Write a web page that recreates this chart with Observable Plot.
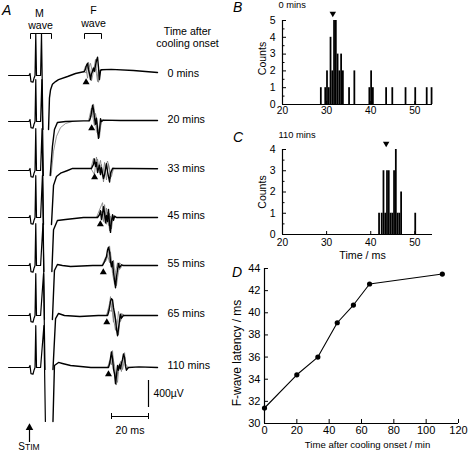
<!DOCTYPE html>
<html><head><meta charset="utf-8">
<script src="https://cdn.jsdelivr.net/npm/d3@7"></script>
<script src="https://cdn.jsdelivr.net/npm/@observablehq/plot@0.6"></script>
<style>
body{margin:0;background:#fff;}
#fig{position:relative;width:469px;height:459px;overflow:hidden;font-family:"Liberation Sans",Arial,sans-serif;background:#fff;}
#fig > svg{position:absolute;overflow:visible;}
.lab{position:absolute;font-style:italic;font-size:14px;line-height:1;}
</style></head><body><div id="fig"></div>
<script>
// ---------------- data ----------------
const coolingTimes = [0, 20, 33, 45, 55, 65, 110];            // min after cooling onset
const fLatency     = [31.4, 34.4, 36.0, 39.1, 40.7, 42.6, 43.5]; // ms

// histogram B (0 mins): bin starts (ms) and counts, bin width 0.4 ms
const histBStart = [28.6, 29.6, 30.0, 30.4, 30.8, 31.2, 31.6, 32.0, 32.4, 32.8, 33.2, 33.6, 35.0, 36.2, 39.6, 40.0, 40.4, 43.4, 44.8, 47.8, 50.0, 52.6, 53.7];
const histBCount = [1,    1,    2,    1,    4,    2,    5,    5,    3,    2,    3,    2,    1,    2,    1,    2,    1,    1,    1,    1,    1,    1,    1];
// histogram C (110 mins)
const histCStart = [41.8, 42.4, 42.8, 43.2, 43.6, 44.0, 44.4, 44.8, 45.2, 45.6, 46.0, 46.4, 46.8, 50.0];
const histCCount = [1,    1,    3,    1,    3,    3,    1,    1,    3,    4,    1,    1,    2,    1];
const binWidth = 0.4;

const histXTicks = [20, 30, 40, 50];
const histBYTicks = [0, 1, 2, 3, 4, 5];
const histCYTicks = [0, 1, 2, 3, 4];
const dXTicks = [0, 20, 40, 60, 80, 100, 120];
const dYTicks = [30, 32, 34, 36, 38, 40, 42, 44];

// EMG traces (time ms after stimulus, amplitude µV)
const stimTrace = [[-10.5,0],[0.5,0],[1.1,30],[1.6,-90],[2.7,-100],[3.2,-45],[3.8,0],[4.2,620],[4.6,0],[6.8,0]];
const mWave = [[0,620],[0.8,-800]];
const mOnset = [7.3, 7.5, 7.6, 7.8, 8.1, 8.4, 8.6];
const recovery = [
  [[11.1,-800],[11.6,-330],[12.2,-210],[13.2,-130],[14.9,-90],[16.5,-60],[21.4,-15],[25.7,30],[30.0,55]],
  [[12.0,-800],[13.2,-370],[14.3,-120],[15.9,-15],[20.3,0],[30,10]],
  [[12.7,-800],[13.8,-220],[15.4,-90],[17.6,-40],[21.4,0],[24.1,30],[30,30]],
  [[12.9,-800],[13.8,-180],[15.9,-45],[20.3,-30],[30,0]],
  [[13.2,-800],[14.3,-75],[15.9,15],[18.6,0],[23,-15],[35,0]],
  [[13.5,-800],[14.9,-45],[16.5,30],[19.7,0],[28,-15],[38,0]],
  [[13.5,-800],[14.3,30],[16.5,75],[18.6,60],[23,30],[34,0]]
];
const recoveryAlt20 = [[12.5,-800],[13.8,-440],[15.4,-220],[17.6,-90],[20.3,-30],[24,0]];
const fMain = [
  [[30.5,60],[31.1,100],[31.6,150],[32.2,180],[32.7,90],[33.2,30],[33.8,-60],[34.3,20],[34.9,70],[35.4,110],[35.9,60],[36.5,150],[37.0,220],[37.6,270],[38.1,120],[38.6,-60],[39.2,70],[39.7,85],[45,90],[57,75],[70,45]],
  [[33.2,10],[33.8,60],[34.3,130],[34.9,240],[35.4,180],[35.9,60],[36.5,-40],[37.0,50],[37.6,-120],[38.1,-250],[38.6,-150],[39.2,40],[39.7,0],[40.8,20],[50,15],[70,15]],
  [[34.3,30],[35.4,90],[35.9,170],[36.5,60],[37.0,120],[37.6,-30],[38.6,80],[39.2,-60],[39.7,40],[40.8,-120],[41.4,-60],[42.4,100],[43.0,-20],[44.1,-170],[44.6,-40],[45.7,30],[46.8,30],[55,30],[70,25]],
  [[37.6,0],[38.6,40],[39.2,100],[39.7,-30],[40.3,60],[40.8,160],[41.4,60],[41.9,-80],[42.4,30],[43.0,-60],[43.5,120],[44.1,-100],[44.6,-220],[45.1,-60],[45.7,40],[46.2,-40],[46.8,20],[47.8,0],[55,0],[70,0]],
  [[40.3,0],[41.4,60],[42.4,130],[43.0,230],[43.5,270],[44.1,200],[44.6,60],[45.1,-20],[45.7,60],[46.2,-100],[46.8,-220],[47.3,-330],[47.8,-180],[48.4,-60],[48.9,30],[49.5,-30],[50.5,10],[51.6,0],[60,0],[70,0]],
  [[43.0,0],[43.5,40],[44.1,120],[44.6,210],[45.1,250],[45.7,230],[46.2,120],[46.8,20],[47.3,-60],[47.8,-200],[48.4,-300],[48.9,-200],[49.5,-60],[50.0,20],[50.5,-40],[51.6,0],[52.7,0],[60,0],[70,0]],
  [[43.5,0],[44.1,50],[44.6,140],[45.1,230],[45.7,120],[46.2,-20],[46.8,-100],[47.3,-240],[47.8,-120],[48.4,30],[48.9,-40],[49.5,40],[50.0,-20],[50.5,60],[51.1,120],[51.6,200],[52.2,150],[52.7,20],[53.2,-40],[54.3,0],[60,10],[70,0]]
];
const fAlt1 = [
  [[30.0,55],[31.1,140],[31.6,60],[32.2,-40],[32.7,100],[33.8,180],[34.9,40],[35.9,130],[37.0,30],[37.6,-90],[38.6,80],[40,85]],
  [[32.7,10],[34.3,200],[34.9,90],[35.9,-60],[36.5,120],[37.6,-40],[38.6,-240],[39.7,20],[41,15]],
  [[34,30],[35.4,180],[36.5,110],[37.6,170],[38.6,-40],[39.7,90],[40.8,-170],[41.9,60],[43.0,140],[44.1,20],[45.1,-90],[46.2,30],[47,30]],
  [[37,0],[39.2,150],[40.3,220],[40.8,60],[41.9,-40],[42.4,140],[43.5,-120],[44.1,60],[45.1,-170],[46.2,30],[48,0]],
  [[40,0],[42.4,80],[43.5,180],[44.1,290],[44.6,150],[45.7,-50],[46.2,80],[47.3,-200],[47.8,-300],[48.9,-100],[49.5,40],[51,0]],
  [[42.5,0],[44.1,180],[44.6,280],[45.1,150],[45.7,40],[46.2,-100],[46.8,60],[47.8,-120],[48.4,-200],[48.9,-290],[49.5,-120],[50.5,30],[52,0]],
  [[43,0],[44.6,80],[45.1,170],[45.7,250],[46.2,60],[46.8,-60],[47.3,-140],[47.8,-260],[48.4,-100],[49.5,60],[50.5,-60],[51.6,140],[52.2,220],[52.7,60],[54,0]]
];
const fAlt2 = [
  [[30.0,55],[31.6,40],[32.7,200],[33.2,120],[34.3,-80],[35.4,60],[36.5,240],[37.0,100],[38.1,-100],[39.2,90],[40,85]],
  [[33.2,10],[34.9,130],[35.4,260],[36.5,20],[37.0,-150],[38.1,-200],[39.2,-60],[40.3,30],[41,15]],
  [[34,30],[35.9,-60],[37.0,200],[38.1,40],[39.2,150],[40.3,-90],[41.4,120],[42.4,-140],[43.5,100],[44.6,-120],[45.7,40],[47,30]],
  [[37,0],[39.7,90],[40.8,-60],[41.4,190],[42.4,-100],[43.0,80],[44.1,-200],[44.6,20],[45.7,-60],[47,10],[48,0]],
  [[40,0],[41.9,120],[43.0,160],[44.1,40],[44.6,200],[45.7,-120],[46.8,-280],[47.3,-100],[48.4,40],[49.5,-60],[51,0]],
  [[42.5,0],[43.5,90],[45.1,60],[45.7,200],[46.2,-40],[47.3,-220],[48.4,-100],[48.9,60],[50.0,-90],[51.1,20],[52,0]],
  [[43,0],[44.1,100],[45.1,40],[45.7,180],[46.8,20],[47.8,-180],[48.4,-220],[48.9,-60],[50.0,90],[51.1,-30],[52.2,120],[53.2,-20],[54,0]]
];
const scaleBarMs = 20, scaleBarUV = 400;

// ---------------- layout ----------------
const FONT = "'Liberation Sans', Arial, Helvetica, sans-serif";
const baseStyle = {fontFamily: FONT, background: "transparent", overflow: "visible", color: "#000"};
const fig = document.getElementById("fig");
function place(svg, left, top) { svg.style.left = left + "px"; svg.style.top = top + "px"; fig.appendChild(svg); }
const fmt = d => String(d);

// ---------- Panel A ----------
const UV = 14.81;   // µV per pixel
const PXMS = 1.85;  // px per ms
const X0 = 27.5;    // px of stimulus
const rowBasePx = [75, 121, 170, 217, 265, 315, 367];
const rowBase = rowBasePx.map(p => -p * UV);
const mainPre = [], mainPost = [], alt = [];
coolingTimes.forEach((ct, r) => {
  stimTrace.concat(mWave.map(([dt, v]) => [mOnset[r] + dt, v]))
    .forEach(([t, v]) => mainPre.push({t, v: v + rowBase[r], s: r}));
  recovery[r].concat(fMain[r]).forEach(([t, v]) => mainPost.push({t, v: v + rowBase[r], s: r}));
  [fAlt1[r], fAlt2[r]].forEach((arr, k) => arr.forEach(([t, v]) => alt.push({t, v: v + rowBase[r], s: r + "f" + k})));
});
recoveryAlt20.forEach(([t, v]) => alt.push({t, v: v + rowBase[1], s: "1rec"}));

const Y = p => -p * UV, T = px => (px - X0) / PXMS;
const brackets = [
  {s: "M", pts: [[T(30), Y(38)], [T(30), Y(33)], [T(51), Y(33)], [T(51), Y(38)]]},
  {s: "F", pts: [[T(84), Y(38)], [T(84), Y(33)], [T(101), Y(33)], [T(101), Y(38)]]}
].flatMap(b => b.pts.map(([t, v]) => ({t, v, s: b.s})));
const annMid = [
  {t: T(39), v: Y(13.5), txt: "M"},
  {t: T(40), v: Y(25), txt: "wave"},
  {t: T(93), v: Y(10), txt: "F"},
  {t: T(93), v: Y(23.5), txt: "wave"},
  {t: T(187), v: Y(31), txt: "Time after"},
  {t: T(187), v: Y(43), txt: "cooling onset"},
  {t: T(111) + scaleBarMs / 2, v: Y(430), txt: scaleBarMs + " ms"}
];
const annStart = [{t: T(153), v: Y(393), txt: scaleBarUV + "µV"}];
const sbX = T(111), sbY = Y(416), vbX = sbX + scaleBarMs, vbTop = Y(380);
const stimX = T(29);

const plotA = Plot.plot({
  width: 230, height: 459, margin: 0,
  x: {domain: [-X0 / PXMS, (230 - X0) / PXMS], axis: null},
  y: {domain: [-459 * UV, 0], axis: null},
  style: baseStyle,
  marks: [
    Plot.line(alt, {x: "t", y: "v", z: "s", stroke: "#7a7a7a", strokeWidth: 0.8}),
    Plot.line(mainPre, {x: "t", y: "v", z: "s", stroke: "#000", strokeWidth: 1.2}),
    Plot.line(mainPost, {x: "t", y: "v", z: "s", stroke: "#000", strokeWidth: 1.4}),
    Plot.dot(fLatency.map((l, r) => ({t: l, v: rowBase[r] - 100})), {x: "t", y: "v", symbol: "triangle", r: 2.6, fill: "#000", stroke: "none"}),
    Plot.text(coolingTimes.map((c, r) => ({t: T(167), v: rowBase[r], label: c + " mins"})), {x: "t", y: "v", text: "label", textAnchor: "start", fontSize: 10.7, dy: -1.5}),
    Plot.line(brackets, {x: "t", y: "v", z: "s", stroke: "#000", strokeWidth: 1}),
    Plot.text(annMid, {x: "t", y: "v", text: "txt", textAnchor: "middle", fontSize: 10.6}),
    Plot.text(annStart, {x: "t", y: "v", text: "txt", textAnchor: "start", fontSize: 10.4}),
    // scale bars
    Plot.ruleY([sbY], {x1: sbX, x2: sbX + scaleBarMs, stroke: "#000", strokeWidth: 1}),
    Plot.ruleX([sbX, sbX + scaleBarMs], {y1: sbY - 3 * UV, y2: sbY + 3 * UV, stroke: "#000", strokeWidth: 1}),
    Plot.ruleX([vbX], {y1: vbTop, y2: vbTop - scaleBarUV, stroke: "#000", strokeWidth: 1.2}),
    // stimulus arrow
    Plot.ruleX([stimX], {y1: Y(428), y2: Y(442), stroke: "#000", strokeWidth: 1.2}),
    Plot.dot([{t: stimX, v: Y(427.2)}], {x: "t", y: "v", symbol: "triangle", r: 2.8, fill: "#000", stroke: "none"})
  ]
});
place(plotA, 0, 0);

// ---------- Histograms B & C ----------
function hist(starts, counts, yTicks, opts) {
  const data = starts.map((s, i) => ({x1: s, x2: s + binWidth, n: counts[i]}));
  const ymax = yTicks[yTicks.length - 1];
  const yh = d3.range(0, ymax + 0.01, 0.5);
  const pxPerCount = (opts.height - opts.marginTop - opts.marginBottom) / ymax;
  const pxPerMs = (239 - opts.marginLeft - opts.marginRight) / 34;
  return Plot.plot({
    width: 239, height: opts.height,
    marginLeft: opts.marginLeft, marginRight: opts.marginRight, marginTop: opts.marginTop, marginBottom: opts.marginBottom,
    x: {domain: [20, 54]}, y: {domain: [0, ymax]},
    style: baseStyle,
    marks: [
      Plot.rectY(data, {x1: "x1", x2: "x2", y: "n", fill: "#000", inset: 0}),
      Plot.ruleY([0], {x1: 20, x2: 54, stroke: "#000", strokeWidth: 1.2}),
      Plot.ruleX([20], {y1: 0, y2: ymax, stroke: "#000", strokeWidth: 1.2}),
      Plot.ruleY(yh, {x1: 20, x2: d => 20 + (Number.isInteger(d) ? 4 : 2.5) / pxPerMs, stroke: "#000", strokeWidth: 1}),
      Plot.ruleX(histXTicks, {y1: 0, y2: 3 / pxPerCount, stroke: "#000", strokeWidth: 1}),
      Plot.axisX({ticks: histXTicks, tickSize: 0, tickPadding: opts.xPad, fontSize: 10.2, tickFormat: fmt, label: null}),
      Plot.axisY({ticks: yTicks, tickSize: 0, tickPadding: 7, fontSize: 10.5, tickFormat: fmt, label: null}),
      Plot.text(["Counts"], {frameAnchor: "left", textAnchor: "middle", lineAnchor: "middle", rotate: -90, dx: -20, dy: opts.countsDy, fontSize: 10.5}),
      Plot.text([opts.title], {frameAnchor: "top-left", textAnchor: "start", lineAnchor: "middle", dx: -4, dy: opts.titleDy, fontSize: 9.3}),
      Plot.dot([opts.latency], {x: d => d, y: () => ymax, symbol: "triangle", rotate: 180, r: 2.4, fill: "#000", stroke: "none", dy: opts.triDy}),
      ...(opts.xlabel ? [Plot.text([opts.xlabel], {frameAnchor: "bottom", textAnchor: "middle", lineAnchor: "middle", dy: 21, dx: 5, fontSize: 10.7})] : [])
    ]
  });
}
const plotB = hist(histBStart, histBCount, histBYTicks, {
  height: 125, marginLeft: 52, marginRight: 37, marginTop: 20, marginBottom: 21,
  xPad: 2, countsDy: -4, title: coolingTimes[0] + " mins", titleDy: -15, latency: fLatency[0], triDy: -7
});
place(plotB, 230, 0);
const plotC = hist(histCStart, histCCount, histCYTicks, {
  height: 135, marginLeft: 52, marginRight: 37, marginTop: 24, marginBottom: 26,
  xPad: 4, countsDy: 0, title: coolingTimes[6] + " mins", titleDy: -14, latency: fLatency[6], triDy: -6,
  xlabel: "Time / ms"
});
place(plotC, 230, 125);

// ---------- Panel D ----------
const latData = coolingTimes.map((t, i) => ({t, lat: fLatency[i]}));
const plotD = Plot.plot({
  width: 239, height: 199, marginLeft: 34, marginRight: 11, marginTop: 8, marginBottom: 36,
  x: {domain: [0, 120]}, y: {domain: [30, 44]},
  style: baseStyle,
  marks: [
    Plot.ruleY([30], {x1: 0, x2: 120, stroke: "#000", strokeWidth: 1.2}),
    Plot.ruleX([0], {y1: 30, y2: 44, stroke: "#000", strokeWidth: 1.2}),
    Plot.ruleX(dXTicks, {y1: 30, y2: 30 + 4 / 11.07, stroke: "#000", strokeWidth: 1}),
    Plot.ruleY(dYTicks, {x1: 0, x2: 4 / 1.617, stroke: "#000", strokeWidth: 1}),
    Plot.axisX({ticks: dXTicks, tickSize: 0, tickPadding: 3, fontSize: 11, tickFormat: fmt, label: null}),
    Plot.axisY({ticks: dYTicks, tickSize: 0, tickPadding: 4, fontSize: 11, tickFormat: fmt, label: null}),
    Plot.line(latData, {x: "t", y: "lat", stroke: "#000", strokeWidth: 1.1}),
    Plot.dot(latData, {x: "t", y: "lat", r: 2.6, fill: "#000", stroke: "none"}),
    Plot.text(["Time after cooling onset / min"], {frameAnchor: "bottom", textAnchor: "middle", lineAnchor: "middle", dy: 21, dx: 6, fontSize: 9.6}),
    Plot.text(["F-wave latency / ms"], {frameAnchor: "left", textAnchor: "middle", lineAnchor: "middle", rotate: -90, dx: -27, dy: 7, fontSize: 12})
  ]
});
place(plotD, 230, 260);

// ---------- panel letters & STIM ----------
[["A", 2, 3], ["B", 233, 0], ["C", 233, 130], ["D", 232, 265]].forEach(([t, x, y]) => {
  const d = document.createElement("div"); d.className = "lab"; d.textContent = t;
  d.style.left = x + "px"; d.style.top = y + "px"; fig.appendChild(d);
});
const stim = document.createElement("div");
stim.style.cssText = "position:absolute;left:9px;width:40px;text-align:center;top:441px;font-size:10px;line-height:12px;";
stim.innerHTML = "S<span style='font-size:8.5px'>TIM</span>";
fig.appendChild(stim);
</script>
</body></html>
